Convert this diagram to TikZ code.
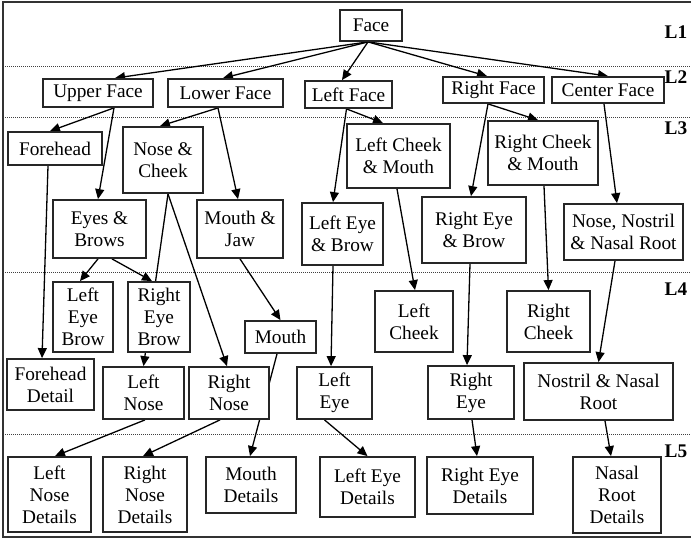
\documentclass[tikz,border=0pt]{standalone}
\usepackage{fontspec}
\setmainfont{Liberation Serif}
\usetikzlibrary{arrows.meta}
\pgfdeclarelayer{bg}
\pgfsetlayers{bg,main}
\newcommand{\boxfont}{\fontsize{19.3}{22}\selectfont}
\tikzset{
  box/.style={draw=black!85, line width=1.8pt, fill=white, align=center,
              inner sep=0pt, font=\boxfont},
  sz/.style 2 args={minimum width=#1pt, minimum height=#2pt},
  arr/.style={-{Triangle[length=10pt,width=9pt]}, line width=1.3pt, black},
  levelsep/.style={black!75, line width=0.9pt, dash pattern=on 1pt off 1pt},
  frame/.style={black!80, line width=1.8pt},
  lvl/.style={font=\boxfont\bfseries, inner sep=0pt}
}
\begin{document}
\begin{tikzpicture}[x=1pt, y=-1pt]
\useasboundingbox (0,0) rectangle (691,540);

% outer frame (top, left, bottom)
\draw[frame] (691,2) -- (3,2) -- (3,537) -- (691,537);

% level labels
\node[lvl] (l1) at (676,32) {L1};
\node[lvl] (l2) at (676,77) {L2};
\node[lvl] (l3) at (676,128) {L3};
\node[lvl] (l4) at (676,289) {L4};
\node[lvl] (l5) at (676,451) {L5};

% L1
\node[box, sz={62}{31}] (face) at (371,25.5) {Face};

% L2
\node[box, sz={110}{28}] (upper) at (98,93) {Upper Face};
\node[box, sz={115}{28}] (lower) at (225.5,93) {Lower Face};
\node[box, sz={87}{27}] (leftface) at (348.5,94.5) {Left Face};
\node[box, sz={101}{26}] (rightface) at (493.5,90) {Right Face};
\node[box, sz={112}{26}] (centerface) at (608,90) {Center Face};

% L3
\node[box, sz={94}{33}] (forehead) at (55,148.5) {Forehead};
\node[box, sz={80}{66}] (nosecheek) at (163,160) {Nose \&\\Cheek};
\node[box, sz={93}{58}] (eyesbrows) at (99.5,229) {Eyes \&\\Brows};
\node[box, sz={86}{58}] (mouthjaw) at (240,229) {Mouth \&\\Jaw};
\node[box, sz={81}{62}] (lefteyebrow) at (342.5,234) {Left Eye\\\& Brow};
\node[box, sz={103}{64}] (leftcheekmouth) at (398.5,156) {Left Cheek\\\& Mouth};
\node[box, sz={110}{64}] (rightcheekmouth) at (543,153) {Right Cheek\\\& Mouth};
\node[box, sz={104}{66}] (righteyebrow) at (474,230) {Right Eye\\\& Brow};
\node[box, sz={119}{56}] (nosenostril) at (623.5,232) {Nose, Nostril\\\& Nasal Root};

% L4
\node[box, sz={60}{70}] (lebrow) at (83,317) {Left\\Eye\\Brow};
\node[box, sz={62}{70}] (rebrow) at (159,317) {Right\\Eye\\Brow};
\node[box, sz={71}{32}] (mouth) at (280.5,337) {Mouth};
\node[box, sz={87}{51}] (foreheaddetail) at (50.5,384.5) {Forehead\\Detail};
\node[box, sz={81}{52}] (leftnose) at (143.5,393) {Left\\Nose};
\node[box, sz={80}{52}] (rightnose) at (229,393) {Right\\Nose};
\node[box, sz={75}{52}] (lefteye) at (334.5,393) {Left\\Eye};
\node[box, sz={78}{61}] (leftcheek) at (414,321.5) {Left\\Cheek};
\node[box, sz={83}{61}] (rightcheek) at (548.5,321.5) {Right\\Cheek};
\node[box, sz={86}{53}] (righteye) at (471,392.5) {Right\\Eye};
\node[box, sz={149}{57}] (nostrilroot) at (598.5,391.5) {Nostril \& Nasal\\Root};

% L5
\node[box, sz={83}{75}] (lnd) at (49.5,494.5) {Left\\Nose\\Details};
\node[box, sz={84}{75}] (rnd) at (145,494.5) {Right\\Nose\\Details};
\node[box, sz={90}{56}] (mouthdet) at (251,485) {Mouth\\Details};
\node[box, sz={95}{60}] (led) at (367.5,487) {Left Eye\\Details};
\node[box, sz={106}{57}] (red) at (480,485.5) {Right Eye\\Details};
\node[box, sz={88}{76}] (nrd) at (617,495) {Nasal\\Root\\Details};

\begin{pgfonlayer}{bg}
% level separators
\foreach \yy in {66,117,272,434}
  \draw[levelsep] (5,\yy) -- (691,\yy);

% Face -> L2
\draw[arr] ([xshift=-3pt]face.south) -- ([xshift=17pt]upper.north);
\draw[arr] ([xshift=-3pt]face.south) -- ([xshift=-2.5pt]lower.north);
\draw[arr] ([xshift=-3pt]face.south) -- ([xshift=-6.5pt]leftface.north);
\draw[arr] ([xshift=-3pt]face.south) -- ([xshift=-6.5pt]rightface.north);
\draw[arr] ([xshift=-3pt]face.south) -- (centerface.north);

% L2 -> L3
\draw[arr] ([xshift=16pt]upper.south) -- ([xshift=-5pt]forehead.north);
\draw[arr] ([xshift=16pt]upper.south) -- ([xshift=-1.5pt]eyesbrows.north);
\draw[arr] ([xshift=-7.5pt]lower.south) -- ([xshift=-3pt]nosecheek.north);
\draw[arr] ([xshift=-7.5pt]lower.south) -- ([xshift=-2pt]mouthjaw.north);
\draw[arr] ([xshift=-2pt]leftface.south) -- ([xshift=-9.5pt]lefteyebrow.north);
\draw[arr] ([xshift=-2pt]leftface.south) -- ([xshift=-15.5pt]leftcheekmouth.north);
\draw[arr] ([xshift=-5.5pt]rightface.south) -- ([xshift=-3pt]righteyebrow.north);
\draw[arr] ([xshift=-5.5pt]rightface.south) -- ([xshift=-5pt]rightcheekmouth.north);
\draw[arr] ([xshift=-4pt]centerface.south) -- ([xshift=-6.5pt]nosenostril.north);

% L3 -> L4
\draw[arr] ([xshift=-7pt]forehead.south) -- ([xshift=-8.5pt]foreheaddetail.north);
\draw[arr] ([xshift=-1.5pt]eyesbrows.south) -- ([xshift=-3pt]lebrow.north);
\draw[arr] ([xshift=12.5pt]eyesbrows.south) -- ([xshift=-7pt]rebrow.north);
\draw[arr] ([xshift=5pt]nosecheek.south) -- (leftnose.north);
\draw[arr] ([xshift=5pt]nosecheek.south) -- ([xshift=-2pt]rightnose.north);
\draw[arr] (mouthjaw.south) -- (mouth.north);
\draw[arr] ([xshift=-9.5pt]lefteyebrow.south) -- ([xshift=-3.5pt]lefteye.north);
\draw[arr] ([xshift=-1.5pt]leftcheekmouth.south) -- ([xshift=1pt]leftcheek.north);
\draw[arr] ([xshift=-4pt]righteyebrow.south) -- ([xshift=-4pt]righteye.north);
\draw[arr] ([xshift=1pt]rightcheekmouth.south) -- (rightcheek.north);
\draw[arr] ([xshift=-8.5pt]nosenostril.south) -- (nostrilroot.north);

% L4 -> L5
\draw[arr] ([xshift=-3.5pt]mouth.south) -- ([xshift=-1pt]mouthdet.north);
\draw[arr] ([xshift=1.5pt]leftnose.south) -- ([xshift=5.5pt]lnd.north);
\draw[arr] ([xshift=-9pt]rightnose.south) -- ([xshift=-2pt]rnd.north);
\draw[arr] ([xshift=-10pt]lefteye.south) -- (led.north);
\draw[arr] ([xshift=1pt]righteye.south) -- ([xshift=-3pt]red.north);
\draw[arr] ([xshift=6.5pt]nostrilroot.south) -- ([xshift=-6pt]nrd.north);
\end{pgfonlayer}
\end{tikzpicture}
\end{document}
